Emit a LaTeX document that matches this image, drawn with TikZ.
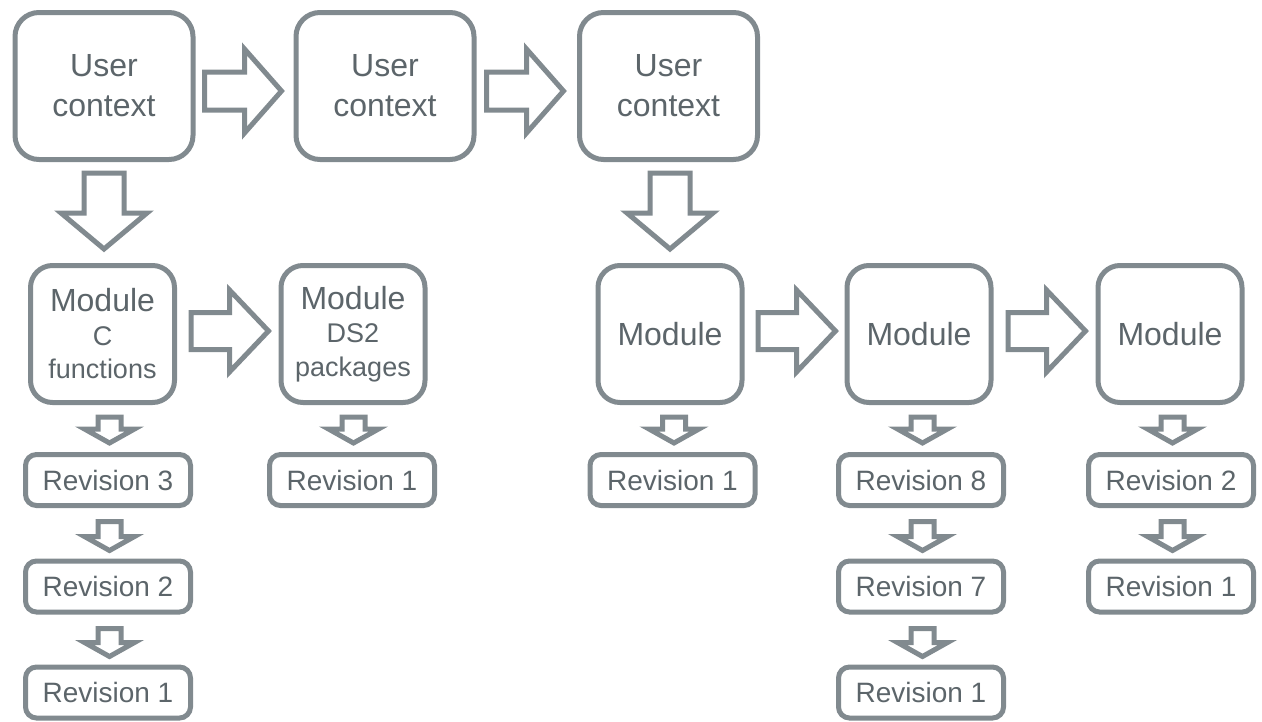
\documentclass[tikz,border=0pt]{standalone}
\usepackage{fontspec}
\setmainfont{Liberation Sans}
\usetikzlibrary{calc}

\definecolor{edgegray}{RGB}{129,138,143}
\definecolor{inkgray}{RGB}{92,101,106}

\tikzset{
  box/.style={draw=edgegray, line width=5pt, fill=white, text=inkgray,
    align=center, inner sep=0pt},
  ctxbox/.style={box, minimum width=178pt, minimum height=147pt,
    rounded corners=24pt, font=\fontsize{32}{40}\selectfont},
  modbox/.style={box, minimum width=144pt, minimum height=137pt,
    rounded corners=22pt, font=\fontsize{32}{39}\selectfont},
  subtext/.style={font=\fontsize{27}{33.5}\selectfont},
  revbox/.style={box, minimum width=165pt, minimum height=51pt,
    rounded corners=11pt, font=\fontsize{28}{32}\selectfont},
  blk/.style={draw=edgegray, line width=5pt, line join=miter, fill=white},
}

% hollow block arrow: start point, direction angle, length,
% shaft half width, head half width, head length
\newcommand\blockarrow[6]{%
  \begin{scope}[shift={#1}, rotate=#2]
    \draw[blk] (0,-#4) -- ({#3-#6},-#4) -- ({#3-#6},-#5) -- (#3,0)
      -- ({#3-#6},#5) -- ({#3-#6},#4) -- (0,#4) -- cycle;
  \end{scope}}
\newcommand\ctxright[1]{\blockarrow{#1}{0}{77}{19}{42}{37}}
\newcommand\ctxdown[1]{\blockarrow{#1}{-90}{76}{20}{43}{36}}
\newcommand\modright[1]{\blockarrow{#1}{0}{77.5}{18.5}{41}{39}}
\newcommand\revdown[2]{\blockarrow{#1}{-90}{#2}{11.5}{25}{14}}

\begin{document}
\begin{tikzpicture}[x=1pt, y=-1pt]
  \useasboundingbox (0,0) rectangle (1262,721);

  % user contexts
  \node[ctxbox] (uc1) at (104,86)   {User\\context};
  \node[ctxbox] (uc2) at (385,86)   {User\\context};
  \node[ctxbox] (uc3) at (668.5,86) {User\\context};

  % modules
  \node[modbox, subtext] (mc)  at (102.5,334)
    {{\fontsize{32}{32}\selectfont Module}\\C\\functions};
  \node[modbox, subtext] (mds) at (353,334)
    {{\fontsize{32}{32}\selectfont Module}\\DS2\\packages};
  \node[modbox] (m1) at (670,334)  {Module};
  \node[modbox] (m2) at (919,334)  {Module};
  \node[modbox] (m3) at (1170,334) {Module};

  % revisions
  \node[revbox] (r3)  at (108,480)   {Revision 3};
  \node[revbox] (r2)  at (108,586.5) {Revision 2};
  \node[revbox] (r1)  at (108,692.5) {Revision 1};
  \node[revbox] (rds) at (352,480)   {Revision 1};
  \node[revbox] (ra)  at (672.5,480) {Revision 1};
  \node[revbox] (rb8) at (921,480)   {Revision 8};
  \node[revbox] (rb7) at (921,586.5) {Revision 7};
  \node[revbox] (rb1) at (921,692.5) {Revision 1};
  \node[revbox] (rc2) at (1171,480)  {Revision 2};
  \node[revbox] (rc1) at (1171,586.5){Revision 1};

  % context to context
  \ctxright{($(uc1.east)+(9,5)$)}
  \ctxright{($(uc2.east)+(10,5)$)}
  % context to module
  \ctxdown{($(uc1.south)+(0,11)$)}
  \ctxdown{($(uc3.south)+(1.5,11)$)}
  % module to module
  \modright{($(mc.east)+(14,-3)$)}
  \modright{($(m1.east)+(13.5,-3)$)}
  \modright{($(m2.east)+(14.5,-3)$)}
  % module to revision
  \revdown{($(mc.south -| r3.north)+(1.5,12)$)}{26}
  \revdown{($(mds.south -| rds.north)+(1.5,12)$)}{26}
  \revdown{($(m1.south -| ra.north)+(1.5,12)$)}{26}
  \revdown{($(m2.south -| rb8.north)+(1.5,12)$)}{26}
  \revdown{($(m3.south -| rc2.north)+(1.5,12)$)}{26}
  % revision to revision
  \revdown{($(r3.south)+(1.5,13.5)$)}{29}
  \revdown{($(r2.south)+(1.5,14)$)}{28}
  \revdown{($(rb8.south)+(1.5,13.5)$)}{29}
  \revdown{($(rb7.south)+(1.5,14)$)}{28}
  \revdown{($(rc2.south)+(1.5,13.5)$)}{29}
\end{tikzpicture}
\end{document}
